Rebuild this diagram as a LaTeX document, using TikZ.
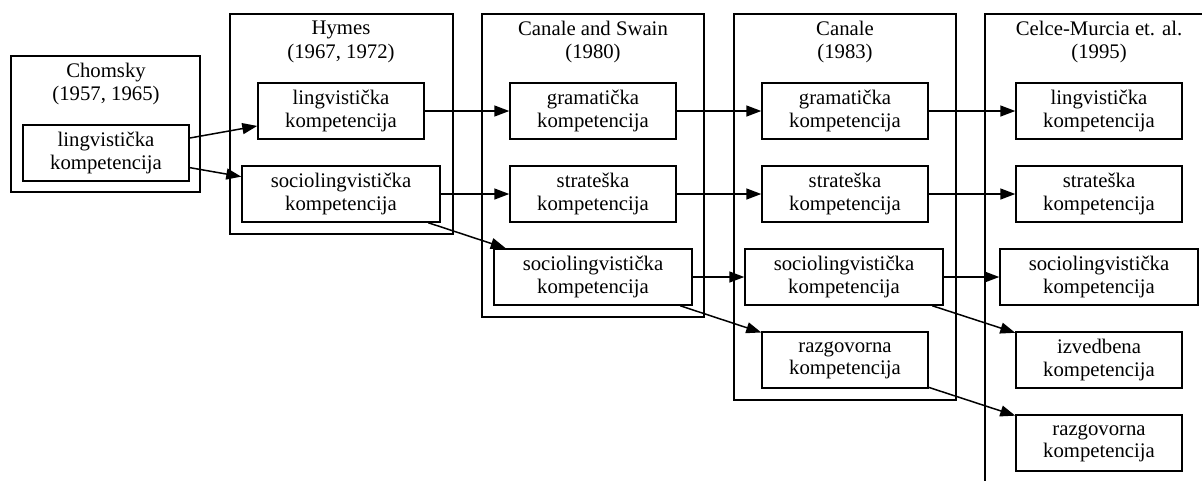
\documentclass[tikz,border=0pt]{standalone}
\usepackage{fontspec}
\setmainfont{Liberation Serif}
\usetikzlibrary{arrows.meta}

\begin{document}
\begin{tikzpicture}[x=0.02cm, y=-0.02cm, line width=0.85pt,
    komp/.style={draw, minimum width=3.32cm, minimum height=1.12cm, inner sep=0pt,
        align=center, font=\fontsize{11.8}{12.6}\selectfont},
    kompw/.style={komp, minimum width=3.96cm},
    naslov/.style={align=center, font=\fontsize{11.8}{13.2}\selectfont},
    veza/.style={-{Triangle[length=0.3cm, width=0.22cm]}}]
\useasboundingbox (0,0) rectangle (1202,481);

% okviri (autori)
\draw (11,56) rectangle (200,192);
\draw (230,14) rectangle (453,234);
\draw (482,14) rectangle (704,317);
\draw (734,14) rectangle (956,400);
\draw (1202,14) -- (985,14) -- (985,481);

\node[naslov] (tchomsky) at (106,84) {Chomsky\\(1957, 1965)};
\node[naslov] (thymes) at (341,42) {Hymes\\(1967, 1972)};
\node[naslov] (tcs) at (593,42) {Canale and Swain\\(1980)};
\node[naslov] (tcanale) at (845,42) {Canale\\(1983)};
\node[naslov] (tcm) at (1099,42) {Celce-Murcia et. al.\\(1995)};

% Chomsky
\node[komp] (chling) at (106,153) {lingvistička\\kompetencija};
% Hymes
\node[komp] (hyling) at (341,111) {lingvistička\\kompetencija};
\node[kompw] (hysoc) at (341,194) {sociolingvistička\\kompetencija};
% Canale and Swain
\node[komp] (csgram) at (593,111) {gramatička\\kompetencija};
\node[komp] (csstrat) at (593,194) {strateška\\kompetencija};
\node[kompw] (cssoc) at (593,277) {sociolingvistička\\kompetencija};
% Canale
\node[komp] (cagram) at (845,111) {gramatička\\kompetencija};
\node[komp] (castrat) at (845,194) {strateška\\kompetencija};
\node[kompw] (casoc) at (844,277) {sociolingvistička\\kompetencija};
\node[komp] (carazg) at (845,360) {razgovorna\\kompetencija};
% Celce-Murcia
\node[komp] (cmling) at (1099,111) {lingvistička\\kompetencija};
\node[komp] (cmstrat) at (1099,194) {strateška\\kompetencija};
\node[kompw] (cmsoc) at (1099,277) {sociolingvistička\\kompetencija};
\node[komp] (cmizv) at (1099,360) {izvedbena\\kompetencija};
\node[komp] (cmrazg) at (1099,443) {razgovorna\\kompetencija};

\draw[veza] (chling) -- (hyling);
\draw[veza] (chling) -- (hysoc);
\draw[veza] (hyling) -- (csgram);
\draw[veza] (hysoc) -- (csstrat);
\draw[veza] (hysoc) -- (cssoc);
\draw[veza] (csgram) -- (cagram);
\draw[veza] (csstrat) -- (castrat);
\draw[veza] (cssoc) -- (casoc);
\draw[veza] (cssoc) -- (carazg);
\draw[veza] (cagram) -- (cmling);
\draw[veza] (castrat) -- (cmstrat);
\draw[veza] (casoc) -- (cmsoc);
\draw[veza] (casoc) -- (cmizv);
\draw[veza] (carazg) -- (cmrazg);
\end{tikzpicture}
\end{document}
